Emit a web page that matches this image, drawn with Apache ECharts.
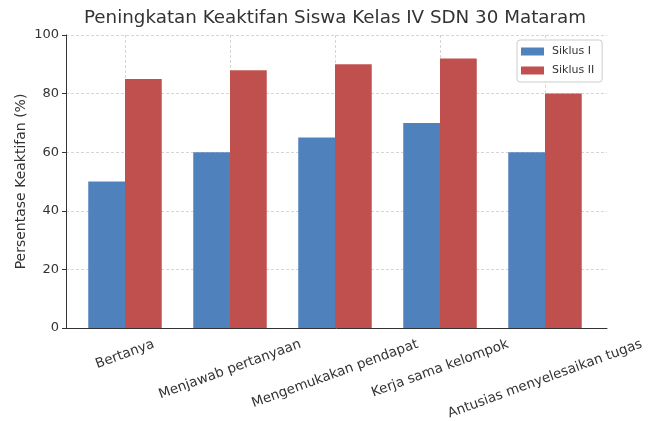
<!DOCTYPE html>
<html lang="id">
<head>
  <meta charset="UTF-8">
  <title>Peningkatan Keaktifan Siswa</title>
  <script src="https://cdn.jsdelivr.net/npm/echarts@6/dist/echarts.min.js"></script>
  <style>
    html, body { margin: 0; background: #fff; }
    #chart { width: 655px; height: 421px; }
  </style>
</head>
<body>
  <div id="chart"></div>
  <script>
    // data
    var kategori = ['Bertanya', 'Menjawab pertanyaan', 'Mengemukakan pendapat', 'Kerja sama kelompok', 'Antusias menyelesaikan tugas'];
    var siklus1 = [50, 60, 65, 70, 60];
    var siklus2 = [85, 88, 90, 92, 80];
    var yTicks = [0, 20, 40, 60, 80, 100];

    var fontFam = '"DejaVu Sans", sans-serif';
    var labelSize = 13.5;

    // label miring 20 derajat, diletakkan di tengah tick (seperti matplotlib)
    // baris kosong (spacer) di atas teks menggeser label ke bawah sesuai panjangnya
    var ctx = document.createElement('canvas').getContext('2d');
    ctx.font = labelSize + 'px "DejaVu Sans"';
    var rad = 20 * Math.PI / 180;
    var labelRich = {
      t: { fontFamily: fontFam, fontSize: labelSize, color: '#333', lineHeight: 15 }
    };
    var labelData = kategori.map(function (k, i) {
      var w = ctx.measureText(k).width;
      var tinggi = w * Math.sin(rad) + labelSize * Math.cos(rad) + 3;
      var s = tinggi * Math.cos(rad);
      labelRich['s' + i] = { fontSize: 1, lineHeight: s, height: s };
      return {
        value: k,
        textStyle: {
          align: 'center',
          verticalAlign: 'middle',
          padding: [0, s * Math.tan(rad), 0, 0]
        }
      };
    });

    var chart = echarts.init(document.getElementById('chart'));
    var dash = { color: '#cccccc', width: 0.8, type: [3, 2] };

    var option = {
      animation: false,
      backgroundColor: '#fff',
      title: {
        text: 'Peningkatan Keaktifan Siswa Kelas IV SDN 30 Mataram',
        left: 84,
        top: 9,
        padding: 0,
        textStyle: { fontFamily: fontFam, fontSize: 18.3, fontWeight: 'normal', color: '#333' }
      },
      legend: {
        data: ['Siklus I', 'Siklus II'],
        orient: 'vertical',
        left: 517,
        top: 40,
        padding: [6, 8, 6, 4],
        itemGap: 8,
        itemWidth: 23,
        itemHeight: 8,
        icon: 'rect',
        borderColor: '#cccccc',
        borderWidth: 1,
        borderRadius: 3,
        backgroundColor: '#fff',
        textStyle: { fontFamily: fontFam, fontSize: 11, color: '#333', padding: [0, 0, 0, 3] }
      },
      grid: [
        { left: 66, right: 48, top: 35, bottom: 93, outerBoundsMode: 'none' },
        { left: 72.5, right: 57.5, top: 35, bottom: 93, outerBoundsMode: 'none' }
      ],
      xAxis: [
        {
          gridIndex: 0, type: 'value', min: 0, max: 1,
          axisLine: { show: true, lineStyle: { color: '#333', width: 1 } },
          axisTick: { show: false }, axisLabel: { show: false }, splitLine: { show: false }
        },
        {
          gridIndex: 1, type: 'category', data: labelData,
          axisLine: { show: false },
          axisTick: { show: false },
          splitLine: { show: true, alignWithLabel: true, interval: 0, lineStyle: dash },
          axisLabel: {
            interval: 0, rotate: 20, margin: 8,
            fontFamily: fontFam, fontSize: labelSize, color: '#333',
            formatter: function (v, i) { return '{s' + i + '| }\n{t|' + v + '}'; },
            rich: labelRich
          }
        }
      ],
      yAxis: [
        {
          gridIndex: 0, type: 'value',
          min: yTicks[0], max: yTicks[yTicks.length - 1], interval: yTicks[1] - yTicks[0],
          name: 'Persentase Keaktifan (%)',
          nameLocation: 'middle',
          nameGap: 38,
          nameMoveOverlap: false,
          nameTextStyle: { fontFamily: fontFam, fontSize: 14, color: '#333' },
          axisLine: { show: true, lineStyle: { color: '#333', width: 1 } },
          axisTick: { show: true, length: 4, lineStyle: { color: '#333' } },
          axisLabel: { margin: 7, fontFamily: fontFam, fontSize: 13, color: '#333' },
          splitLine: { show: true, lineStyle: dash }
        },
        {
          gridIndex: 1, type: 'value',
          min: yTicks[0], max: yTicks[yTicks.length - 1],
          show: false, splitLine: { show: false }
        }
      ],
      series: [
        {
          name: 'Siklus I', type: 'bar', xAxisIndex: 1, yAxisIndex: 1,
          barWidth: 36.75, barGap: '0%',
          itemStyle: { color: '#4f81bd' },
          data: siklus1
        },
        {
          name: 'Siklus II', type: 'bar', xAxisIndex: 1, yAxisIndex: 1,
          barWidth: 36.75, barGap: '0%',
          itemStyle: { color: '#c0504d' },
          data: siklus2
        }
      ]
    };

    chart.setOption(option);
  </script>
</body>
</html>
